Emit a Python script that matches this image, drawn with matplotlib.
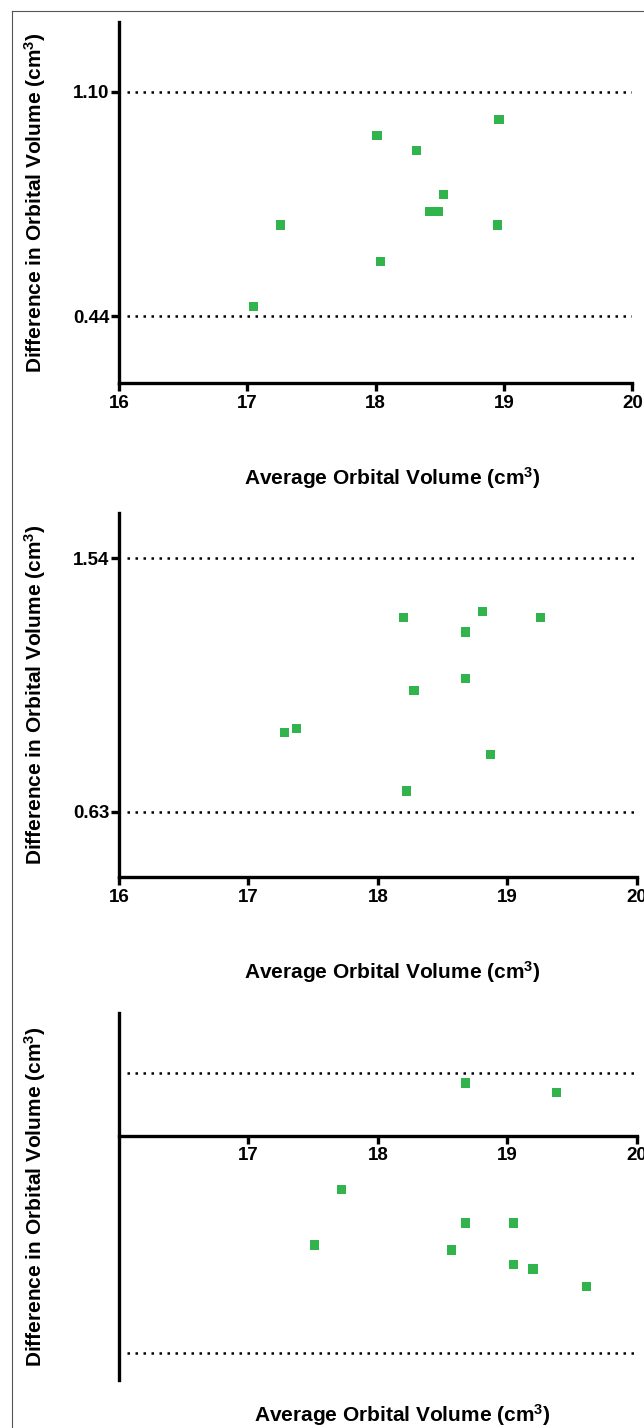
import matplotlib
matplotlib.use("Agg")
import matplotlib.pyplot as plt
from matplotlib.lines import Line2D

plt.rcParams['font.family'] = ['Liberation Sans', 'DejaVu Sans']
plt.rcParams['mathtext.fontset'] = 'custom'
plt.rcParams['mathtext.rm'] = 'Liberation Sans:bold'
plt.rcParams['mathtext.bf'] = 'Liberation Sans:bold'
plt.rcParams['mathtext.it'] = 'Liberation Sans:bold'

# ---------------- data ----------------
x_ticks = [16, 17, 18, 19, 20]

p1_x = [17.05, 17.26, 18.01, 18.04, 18.32, 18.42, 18.49, 18.53, 18.96, 18.95]
p1_y = [0.469, 0.708, 0.970, 0.600, 0.928, 0.748, 0.748, 0.798, 1.019, 0.708]
p1_limits = [1.10, 0.44]
p1_limit_labels = ["1.10", "0.44"]

p2_x = [18.20, 18.81, 19.26, 18.68, 18.68, 18.28, 17.28, 17.37, 18.87, 18.22]
p2_y = [1.329, 1.348, 1.329, 1.276, 1.108, 1.067, 0.916, 0.928, 0.836, 0.705]
p2_limits = [1.54, 0.63]
p2_limit_labels = ["1.54", "0.63"]

p3_x = [18.68, 19.38, 17.72, 18.68, 19.05, 17.51, 18.57, 19.05, 19.20, 19.61]
p3_y = [0.215, 0.177, -0.220, -0.358, -0.358, -0.448, -0.468, -0.526, -0.546, -0.618]
p3_limits = [0.254, -0.888]

xlabel = "Average Orbital Volume (cm$^{\\mathbf{3}}$)"
ylabel = "Difference in Orbital Volume (cm$^{\\mathbf{3}}$)"

# ---------------- figure ----------------
W, H = 644, 1428
fig = plt.figure(figsize=(W / 100, H / 100), dpi=100)
fig.patch.set_facecolor('white')

green = '#31b44b'
spine_lw = 2.4
label_fs = 15
tick_fs = 13.5


def px_axes(left, right, top, bottom):
    return [left / W, 1 - bottom / H, (right - left) / W, (bottom - top) / H]


def style(ax):
    ax.set_facecolor('none')
    for s in ['top', 'right']:
        ax.spines[s].set_visible(False)
    for s in ['left', 'bottom']:
        ax.spines[s].set_linewidth(spine_lw)
        ax.spines[s].set_capstyle('projecting')
    ax.tick_params(direction='out', length=5.5, width=spine_lw, labelsize=tick_fs, pad=1.5)
    for lab in ax.get_xticklabels() + ax.get_yticklabels():
        lab.set_fontweight('bold')


def panel(rect, xs, ys, limits, limit_labels, ylim, zero_axis=False):
    ax = fig.add_axes(rect)
    ax.set_xlim(16, 20)
    ax.set_ylim(*ylim)
    for v in limits:
        ax.hlines(v, 16.06, 20, colors='black', linestyles=(0, (1, 2.2)), lw=1.8, zorder=1)
    ax.scatter(xs, ys, marker='s', s=44, color=green, edgecolors='none', zorder=3, clip_on=False)
    if zero_axis:
        ax.spines['bottom'].set_position(('data', 0))
        ax.set_xticks(x_ticks[1:])
        ax.set_xticklabels([str(t) for t in x_ticks[1:]])
        ax.set_yticks([])
    else:
        ax.set_xticks(x_ticks)
        ax.set_xticklabels([str(t) for t in x_ticks])
        ax.set_yticks(limits)
        ax.set_yticklabels(limit_labels)
    style(ax)
    ax.tick_params(axis='x', pad=3)
    return ax


ax1 = panel(px_axes(119.1, 632.4, 21.7, 383.3), p1_x, p1_y, p1_limits, p1_limit_labels, (0.242, 1.306))
ax2 = panel(px_axes(119.1, 636.6, 513.3, 876.7), p2_x, p2_y, p2_limits, p2_limit_labels, (0.397, 1.702))
ax3 = panel(px_axes(119.1, 636.6, 1013.3, 1380.0), p3_x, p3_y, p3_limits, None, (-1.0, 0.5), zero_axis=True)

# axis titles
for yc in [202.5, 695.0, 1196.6]:
    fig.text(35 / W, 1 - yc / H, ylabel, rotation=90, ha='center', va='center',
             fontsize=label_fs, fontweight='bold')
for xc, yc in [(392, 478), (392, 972), (402, 1415)]:
    fig.text(xc / W, 1 - yc / H, xlabel, ha='center', va='center',
             fontsize=label_fs, fontweight='bold')

# outer frame (left and top edges visible)
fig.add_artist(Line2D([11.5 / W, 11.5 / W], [0, 1 - 11 / H], transform=fig.transFigure,
                      color='#555555', lw=0.8))
fig.add_artist(Line2D([11.5 / W, 1], [1 - 11 / H, 1 - 11 / H], transform=fig.transFigure,
                      color='#555555', lw=0.8))

fig.savefig('out.png', dpi=100, facecolor='white')
